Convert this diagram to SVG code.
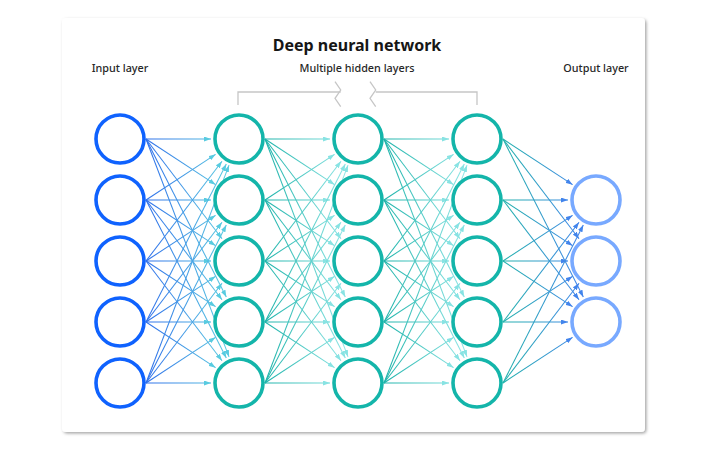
<svg xmlns="http://www.w3.org/2000/svg" width="720" height="455" viewBox="0 0 720 455">
<defs>
<style>
.title{font-family:"Noto Sans","Liberation Sans",sans-serif;font-weight:700;font-size:16px;fill:#161616;text-anchor:middle}
.lbl{font-family:"Noto Sans","Liberation Sans",sans-serif;font-weight:500;font-size:10.8px;fill:#262626;text-anchor:middle}
.in{fill:#fff;stroke:#0f62fe;stroke-width:3.6}
.hid{fill:#fff;stroke:#14b5aa;stroke-width:3.6}
.out{fill:#fff;stroke:#78a9ff;stroke-width:3.6}
.gA line{stroke:url(#gradA);stroke-width:1.05;marker-end:url(#mA)}
.gB line{stroke:url(#gradB);stroke-width:1.05;marker-end:url(#mB)}
.gC line{stroke:url(#gradC);stroke-width:1.05;marker-end:url(#mB)}
.gD line{stroke:url(#gradD);stroke-width:1.05;marker-end:url(#mD)}
.br{fill:none;stroke:#c6c6c6;stroke-width:1.3}
</style>
<filter id="sh" x="-5%" y="-5%" width="110%" height="110%">
<feDropShadow dx="1.5" dy="1.5" stdDeviation="1.5" flood-color="#000" flood-opacity="0.35"/>
</filter>
<linearGradient id="gradA" gradientUnits="userSpaceOnUse" x1="146" y1="0" x2="229" y2="0">
<stop offset="0" stop-color="#2f6fea"/><stop offset="1" stop-color="#5ccfe0"/>
</linearGradient>
<linearGradient id="gradB" gradientUnits="userSpaceOnUse" x1="265" y1="0" x2="348" y2="0">
<stop offset="0" stop-color="#1db3aa"/><stop offset="1" stop-color="#95e8e8"/>
</linearGradient>
<linearGradient id="gradC" gradientUnits="userSpaceOnUse" x1="384" y1="0" x2="467" y2="0">
<stop offset="0" stop-color="#1db3aa"/><stop offset="1" stop-color="#95e8e8"/>
</linearGradient>
<linearGradient id="gradD" gradientUnits="userSpaceOnUse" x1="503" y1="0" x2="583" y2="0">
<stop offset="0" stop-color="#23b2ac"/><stop offset="1" stop-color="#4284ec"/>
</linearGradient>
<marker id="mA" viewBox="0 0 7 5" refX="7" refY="2.5" markerWidth="7" markerHeight="5" markerUnits="userSpaceOnUse" orient="auto"><path d="M0,0 L7,2.5 L0,5 z" fill="#58cbe0"/></marker>
<marker id="mB" viewBox="0 0 7 5" refX="7" refY="2.5" markerWidth="7" markerHeight="5" markerUnits="userSpaceOnUse" orient="auto"><path d="M0,0 L7,2.5 L0,5 z" fill="#88e3e3"/></marker>
<marker id="mD" viewBox="0 0 7 5" refX="7" refY="2.5" markerWidth="7" markerHeight="5" markerUnits="userSpaceOnUse" orient="auto"><path d="M0,0 L7,2.5 L0,5 z" fill="#4284ec"/></marker>
</defs>
<rect width="720" height="455" fill="#ffffff"/>
<rect x="62" y="18" width="583" height="414" rx="4" fill="#fff" filter="url(#sh)"/>
<text class="title" x="357" y="51">Deep neural network</text>
<text class="lbl" x="120" y="72">Input layer</text>
<text class="lbl" x="357" y="72">Multiple hidden layers</text>
<text class="lbl" x="596" y="72">Output layer</text>
<g id="bracket">
<polyline class="br" points="238,105 238,92 340.7,92"/>
<polyline class="br" points="335,81.7 340.7,90 335,98.3 340.7,106.7"/>
<polyline class="br" points="370,81.7 375.7,90 370,98.3 375.7,106.7"/>
<polyline class="br" points="375.7,92 477,92 477,105"/>
</g>
<g id="connectors">
<g class="gA">
<line x1="146" y1="139" x2="211" y2="139"/>
<line x1="146" y1="139" x2="215.59" y2="184.64"/>
<line x1="146" y1="139" x2="222.02" y2="238.73"/>
<line x1="146" y1="139" x2="226.31" y2="297.04"/>
<line x1="146" y1="139" x2="229.03" y2="356.84"/>
<line x1="146" y1="200" x2="215.59" y2="154.36"/>
<line x1="146" y1="200" x2="211" y2="200"/>
<line x1="146" y1="200" x2="215.59" y2="245.64"/>
<line x1="146" y1="200" x2="222.02" y2="299.73"/>
<line x1="146" y1="200" x2="226.31" y2="358.04"/>
<line x1="146" y1="261" x2="222.02" y2="161.27"/>
<line x1="146" y1="261" x2="215.59" y2="215.36"/>
<line x1="146" y1="261" x2="211" y2="261"/>
<line x1="146" y1="261" x2="215.59" y2="306.64"/>
<line x1="146" y1="261" x2="222.02" y2="360.73"/>
<line x1="146" y1="322" x2="226.31" y2="163.96"/>
<line x1="146" y1="322" x2="222.02" y2="222.27"/>
<line x1="146" y1="322" x2="215.59" y2="276.36"/>
<line x1="146" y1="322" x2="211" y2="322"/>
<line x1="146" y1="322" x2="215.59" y2="367.64"/>
<line x1="146" y1="383" x2="229.03" y2="165.16"/>
<line x1="146" y1="383" x2="226.31" y2="224.96"/>
<line x1="146" y1="383" x2="222.02" y2="283.27"/>
<line x1="146" y1="383" x2="215.59" y2="337.36"/>
<line x1="146" y1="383" x2="211" y2="383"/>
</g>
<g class="gB">
<line x1="265" y1="139" x2="330" y2="139"/>
<line x1="265" y1="139" x2="334.59" y2="184.64"/>
<line x1="265" y1="139" x2="341.02" y2="238.73"/>
<line x1="265" y1="139" x2="345.31" y2="297.04"/>
<line x1="265" y1="139" x2="348.03" y2="356.84"/>
<line x1="265" y1="200" x2="334.59" y2="154.36"/>
<line x1="265" y1="200" x2="330" y2="200"/>
<line x1="265" y1="200" x2="334.59" y2="245.64"/>
<line x1="265" y1="200" x2="341.02" y2="299.73"/>
<line x1="265" y1="200" x2="345.31" y2="358.04"/>
<line x1="265" y1="261" x2="341.02" y2="161.27"/>
<line x1="265" y1="261" x2="334.59" y2="215.36"/>
<line x1="265" y1="261" x2="330" y2="261"/>
<line x1="265" y1="261" x2="334.59" y2="306.64"/>
<line x1="265" y1="261" x2="341.02" y2="360.73"/>
<line x1="265" y1="322" x2="345.31" y2="163.96"/>
<line x1="265" y1="322" x2="341.02" y2="222.27"/>
<line x1="265" y1="322" x2="334.59" y2="276.36"/>
<line x1="265" y1="322" x2="330" y2="322"/>
<line x1="265" y1="322" x2="334.59" y2="367.64"/>
<line x1="265" y1="383" x2="348.03" y2="165.16"/>
<line x1="265" y1="383" x2="345.31" y2="224.96"/>
<line x1="265" y1="383" x2="341.02" y2="283.27"/>
<line x1="265" y1="383" x2="334.59" y2="337.36"/>
<line x1="265" y1="383" x2="330" y2="383"/>
</g>
<g class="gC">
<line x1="384" y1="139" x2="449" y2="139"/>
<line x1="384" y1="139" x2="453.59" y2="184.64"/>
<line x1="384" y1="139" x2="460.02" y2="238.73"/>
<line x1="384" y1="139" x2="464.31" y2="297.04"/>
<line x1="384" y1="139" x2="467.03" y2="356.84"/>
<line x1="384" y1="200" x2="453.59" y2="154.36"/>
<line x1="384" y1="200" x2="449" y2="200"/>
<line x1="384" y1="200" x2="453.59" y2="245.64"/>
<line x1="384" y1="200" x2="460.02" y2="299.73"/>
<line x1="384" y1="200" x2="464.31" y2="358.04"/>
<line x1="384" y1="261" x2="460.02" y2="161.27"/>
<line x1="384" y1="261" x2="453.59" y2="215.36"/>
<line x1="384" y1="261" x2="449" y2="261"/>
<line x1="384" y1="261" x2="453.59" y2="306.64"/>
<line x1="384" y1="261" x2="460.02" y2="360.73"/>
<line x1="384" y1="322" x2="464.31" y2="163.96"/>
<line x1="384" y1="322" x2="460.02" y2="222.27"/>
<line x1="384" y1="322" x2="453.59" y2="276.36"/>
<line x1="384" y1="322" x2="449" y2="322"/>
<line x1="384" y1="322" x2="453.59" y2="367.64"/>
<line x1="384" y1="383" x2="467.03" y2="165.16"/>
<line x1="384" y1="383" x2="464.31" y2="224.96"/>
<line x1="384" y1="383" x2="460.02" y2="283.27"/>
<line x1="384" y1="383" x2="453.59" y2="337.36"/>
<line x1="384" y1="383" x2="449" y2="383"/>
</g>
<g class="gD">
<line x1="503" y1="139" x2="572.59" y2="184.64"/>
<line x1="503" y1="139" x2="579.02" y2="238.73"/>
<line x1="503" y1="139" x2="583.31" y2="297.04"/>
<line x1="503" y1="200" x2="568" y2="200"/>
<line x1="503" y1="200" x2="572.59" y2="245.64"/>
<line x1="503" y1="200" x2="579.02" y2="299.73"/>
<line x1="503" y1="261" x2="572.59" y2="215.36"/>
<line x1="503" y1="261" x2="568" y2="261"/>
<line x1="503" y1="261" x2="572.59" y2="306.64"/>
<line x1="503" y1="322" x2="579.02" y2="222.27"/>
<line x1="503" y1="322" x2="572.59" y2="276.36"/>
<line x1="503" y1="322" x2="568" y2="322"/>
<line x1="503" y1="383" x2="583.31" y2="224.96"/>
<line x1="503" y1="383" x2="579.02" y2="283.27"/>
<line x1="503" y1="383" x2="572.59" y2="337.36"/>
</g>
</g>
<g id="input-layer">
<g id="in1"><circle class="in" cx="120" cy="139" r="24"/></g>
<g id="in2"><circle class="in" cx="120" cy="200" r="24"/></g>
<g id="in3"><circle class="in" cx="120" cy="261" r="24"/></g>
<g id="in4"><circle class="in" cx="120" cy="322" r="24"/></g>
<g id="in5"><circle class="in" cx="120" cy="383" r="24"/></g>
</g>
<g id="hidden-layer-1">
<g id="h1n1"><circle class="hid" cx="239" cy="139" r="24"/></g>
<g id="h1n2"><circle class="hid" cx="239" cy="200" r="24"/></g>
<g id="h1n3"><circle class="hid" cx="239" cy="261" r="24"/></g>
<g id="h1n4"><circle class="hid" cx="239" cy="322" r="24"/></g>
<g id="h1n5"><circle class="hid" cx="239" cy="383" r="24"/></g>
</g>
<g id="hidden-layer-2">
<g id="h2n1"><circle class="hid" cx="358" cy="139" r="24"/></g>
<g id="h2n2"><circle class="hid" cx="358" cy="200" r="24"/></g>
<g id="h2n3"><circle class="hid" cx="358" cy="261" r="24"/></g>
<g id="h2n4"><circle class="hid" cx="358" cy="322" r="24"/></g>
<g id="h2n5"><circle class="hid" cx="358" cy="383" r="24"/></g>
</g>
<g id="hidden-layer-3">
<g id="h3n1"><circle class="hid" cx="477" cy="139" r="24"/></g>
<g id="h3n2"><circle class="hid" cx="477" cy="200" r="24"/></g>
<g id="h3n3"><circle class="hid" cx="477" cy="261" r="24"/></g>
<g id="h3n4"><circle class="hid" cx="477" cy="322" r="24"/></g>
<g id="h3n5"><circle class="hid" cx="477" cy="383" r="24"/></g>
</g>
<g id="output-layer">
<g id="out1"><circle class="out" cx="596" cy="200" r="24"/></g>
<g id="out2"><circle class="out" cx="596" cy="261" r="24"/></g>
<g id="out3"><circle class="out" cx="596" cy="322" r="24"/></g>
</g>
</svg>
